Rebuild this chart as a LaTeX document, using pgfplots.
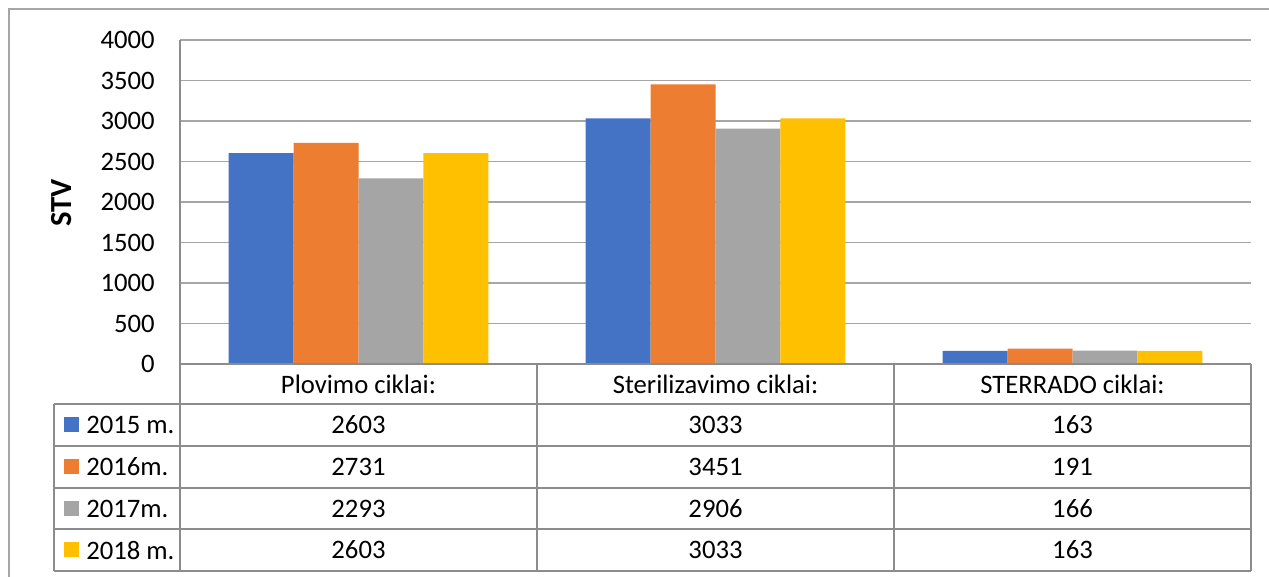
\documentclass[border=0pt]{standalone}
\usepackage{fontspec}
\setmainfont{Carlito}
\usepackage{pgfplots}
\pgfplotsset{compat=1.18}
\usepackage{pgfplotstable}

\definecolor{cA}{HTML}{4472C4}
\definecolor{cB}{HTML}{ED7D31}
\definecolor{cC}{HTML}{A5A5A5}
\definecolor{cD}{HTML}{FFC000}
\definecolor{gridgray}{HTML}{A6A6A6}
\definecolor{tabgray}{HTML}{8C8C8C}

% x: 0 = Plovimo, 1 = Sterilizavimo, 2 = STERRADO
\pgfplotstableread{
x  y15  y16  y17  y18
0  2603 2731 2293 2603
1  3033 3451 2906 3033
2  163  191  166  163
}\cycles

\begin{document}
\fontsize{20}{24}\selectfont
\begin{tikzpicture}[x=0.75pt,y=0.75pt]
% coordinates: (px, 577 - py), px/py measured from the top-left corner
\useasboundingbox (0,0) rectangle (1269,577);
\draw[gridgray, line width=1.2pt] (9,0) -- (9,577-9) -- (1269,577-9);

\begin{axis}[
  at={(180pt*0.75,213pt*0.75)}, anchor=south west,
  scale only axis,
  width=803.25pt, height=243pt,
  xmin=-0.5, xmax=2.5,
  ymin=0, ymax=4000,
  ytick={0,500,...,4000},
  xtick=\empty,
  ymajorgrids,
  grid style={gridgray, line width=1.1pt},
  axis line style={draw=none},
  major tick length=0pt,
  tick style={draw=none},
  yticklabel style={anchor=east, inner sep=0pt, xshift=-18.75pt},
  /pgf/number format/assume math mode=true,
  /pgf/number format/1000 sep={},
  ybar=0pt, bar width=0.182,
  clip=false,
]
\addplot[fill=cA, draw=none] table[x=x, y=y15] {\cycles};
\addplot[fill=cB, draw=none] table[x=x, y=y16] {\cycles};
\addplot[fill=cC, draw=none] table[x=x, y=y17] {\cycles};
\addplot[fill=cD, draw=none] table[x=x, y=y18] {\cycles};
\end{axis}

\node[rotate=90, font=\fontsize{23}{27}\selectfont\bfseries] at (62,577-203) {STV};

% data table below the plot
\begin{scope}[tabgray, line width=1.2pt]
  \draw (180,577-40) -- (180,577-571);
  \draw (180,577-364) -- (1251,577-364);
  \foreach \y in {404,446,488,529,571} \draw (54,577-\y) -- (1251,577-\y);
  \foreach \x in {537,894,1251} \draw (\x,577-364) -- (\x,577-571);
  \draw (54,577-404) -- (54,577-571);
\end{scope}

\node at (358.5,577-384) {Plovimo ciklai:};
\node at (715.5,577-384) {Sterilizavimo ciklai:};
\node at (1072.5,577-384) {STERRADO ciklai:};

\foreach \yc/\col/\lab/\a/\b/\c in {
  425/cA/2015 m./2603/3033/163,
  467/cB/2016m./2731/3451/191,
  508.5/cC/2017m./2293/2906/166,
  550/cD/2018 m./2603/3033/163}{
  \fill[\col] (64,577-\yc-7.5) rectangle (79,577-\yc+7.5);
  \node[anchor=west, inner sep=0pt] at (86,577-\yc) {\lab};
  \node at (358.5,577-\yc) {\a};
  \node at (715.5,577-\yc) {\b};
  \node at (1072.5,577-\yc) {\c};
}
\end{tikzpicture}
\end{document}
